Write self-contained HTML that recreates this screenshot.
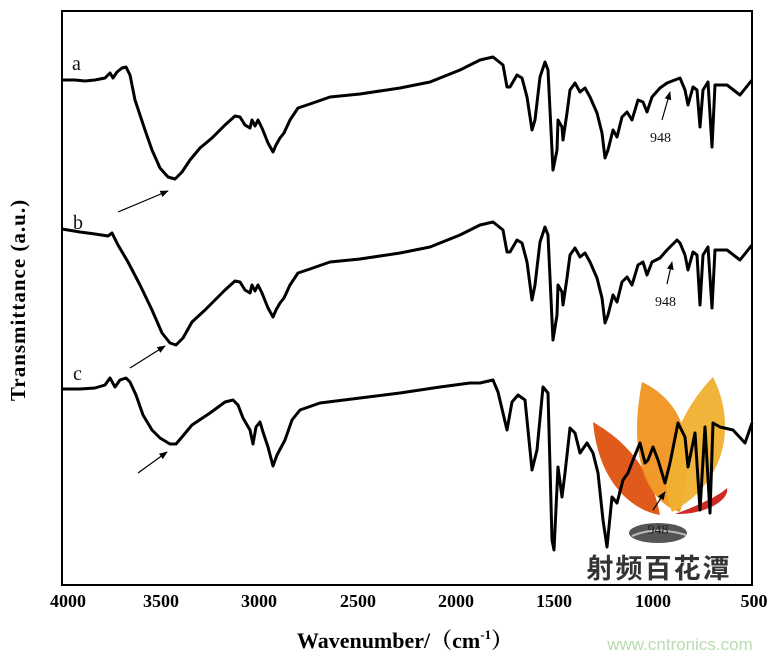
<!DOCTYPE html>
<html><head><meta charset="utf-8"><style>
html,body{margin:0;padding:0;background:#fff;}
svg{display:block;}
</style></head><body>
<svg width="783" height="660" viewBox="0 0 783 660" xmlns="http://www.w3.org/2000/svg">
<defs>
<marker id="ah" viewBox="0 0 10 10" refX="9" refY="5" markerWidth="7" markerHeight="7" orient="auto"><path d="M0,1 L10,5 L0,9 z" fill="#000"/></marker>
</defs>
<rect width="783" height="660" fill="#fff"/>
<!-- logo -->
<g>
<path d="M593,422 C615,435 650,460 660,515 C630,510 598,480 593,422 z" fill="#e05a1c"/>
<path d="M642,382 C680,400 700,440 680,512 C655,505 625,470 642,382 z" fill="#f09420" opacity="0.95"/>
<path d="M713,377 C735,420 730,480 672,512 C655,470 680,410 713,377 z" fill="#f0b030" opacity="0.95"/>
<path d="M675,514 C700,505 720,495 727,488 C730,500 705,515 675,514 z" fill="#d02a25"/>
<ellipse cx="658" cy="533" rx="29" ry="10" fill="#555"/>
<path d="M632,536 C650,528 670,530 686,535" stroke="#bbb" stroke-width="2" fill="none"/>
<text x="658" y="534" font-family="Liberation Serif, serif" font-size="14" fill="#222" text-anchor="middle">948</text>
<text x="659" y="578" font-family="'Liberation Sans','Noto Sans CJK SC',sans-serif" font-size="27" font-weight="bold" fill="#333" text-anchor="middle" letter-spacing="2">射频百花潭</text>
</g>
<!-- frame -->
<rect x="62" y="11" width="690" height="574" fill="none" stroke="#000" stroke-width="2"/>
<g fill="none" stroke="#000" stroke-width="3" stroke-linejoin="round">
<polyline id="a" points="62,80 75,80 85,81 95,80 105,78 110,73 113,78 117,72 122,68 126,67 130,75 135,100 140,115 145,130 152,150 160,168 168,177 175,179 182,172 190,160 200,148 212,138 225,125 235,116 240,117 245,125 250,128 252,120 255,126 258,120 262,128 268,143 273,152 276,145 280,138 284,133 290,120 298,108 310,104 330,97 360,94 400,88 430,82 460,70 480,60 493,57 503,65 507,87 510,87 517,75 522,78 527,97 532,130 535,120 540,77 545,62 548,70 552,150 553,170 557,150 558,120 562,127 563,140 567,113 570,90 575,83 580,92 585,88 590,97 597,113 602,133 605,158 608,150 613,130 617,137 622,117 627,112 632,120 638,100 643,102 647,112 652,97 660,88 667,83 680,78 685,90 688,105 693,87 697,90 700,127 703,90 708,82 712,147 715,85 727,85 740,95 752,80"/>
<polyline points="62,229 80,232 95,234 108,236 112,233 118,245 128,262 140,285 152,310 162,333 170,343 176,345 183,338 192,322 205,310 225,290 235,281 240,282 245,290 250,293 252,285 255,291 258,285 262,293 268,308 273,317 276,310 280,303 284,298 290,285 298,273 310,269 330,262 360,259 400,253 430,247 460,235 480,225 493,222 503,230 507,252 510,252 517,240 522,243 527,262 532,300 535,285 540,242 545,227 548,235 552,320 553,340 557,315 558,285 562,292 563,305 567,278 570,255 575,248 580,257 585,253 590,262 597,278 602,298 605,323 608,315 613,295 617,302 622,282 627,277 632,285 638,265 643,262 647,275 652,262 660,258 667,250 677,240 680,243 685,255 688,270 693,252 697,255 700,305 703,255 708,247 712,308 715,250 727,250 740,260 752,245"/>
<polyline points="62,389 80,389 95,388 105,385 110,378 115,387 120,380 126,378 130,382 136,395 143,415 152,430 160,438 170,444 176,444 182,437 192,425 210,413 225,402 233,400 238,405 243,418 250,430 253,444 256,427 260,422 263,432 268,447 273,466 277,455 285,440 292,420 300,410 320,403 360,398 400,393 440,387 470,383 480,383 493,380 498,392 507,430 512,402 518,395 525,400 532,470 537,450 543,387 548,393 552,540 554,550 558,467 562,497 565,473 570,428 575,433 580,453 587,443 593,453 598,473 603,520 607,547 612,497 617,503 623,480 628,473 633,460 640,443 645,463 648,460 653,447 658,460 665,483 670,463 678,423 685,437 688,467 695,433 700,510 705,427 710,513 713,423 720,427 733,430 745,443 752,423"/>
</g>
<!-- arrows -->
<g stroke="#000" stroke-width="1.2" marker-end="url(#ah)">
<line x1="118" y1="212" x2="168" y2="191"/>
<line x1="130" y1="368" x2="165" y2="346"/>
<line x1="138" y1="473" x2="167" y2="452"/>
<line x1="662" y1="120" x2="670" y2="92"/>
<line x1="667" y1="284" x2="672" y2="262"/>
<line x1="653" y1="510" x2="665" y2="492"/>
</g>
<g font-family="Liberation Serif, serif" fill="#111">
<text x="72" y="70" font-size="20">a</text>
<text x="73" y="229" font-size="20">b</text>
<text x="73" y="380" font-size="20">c</text>
<text x="650" y="142" font-size="14">948</text>
<text x="655" y="306" font-size="14">948</text>
</g>
<g font-family="Liberation Serif, serif" font-weight="bold" font-size="18" fill="#000" text-anchor="middle">
<text x="68" y="607">4000</text>
<text x="161" y="607">3500</text>
<text x="259" y="607">3000</text>
<text x="358" y="607">2500</text>
<text x="456" y="607">2000</text>
<text x="554" y="607">1500</text>
<text x="653" y="607">1000</text>
<text x="754" y="607">500</text>
</g>
<text x="405" y="648" font-family="'Liberation Serif','Noto Serif CJK SC',serif" font-weight="bold" font-size="22" text-anchor="middle">Wavenumber/（cm<tspan font-size="13" dy="-9">-1</tspan><tspan dy="9">）</tspan></text>
<text transform="translate(25,300) rotate(-90)" font-family="Liberation Serif, serif" font-weight="bold" font-size="21" text-anchor="middle" letter-spacing="1">Transmittance (a.u.)</text>
<text x="680" y="650" font-family="Liberation Sans, sans-serif" font-size="17" fill="#b8dcb0" text-anchor="middle">www.cntronics.com</text>
</svg>
</body></html>
